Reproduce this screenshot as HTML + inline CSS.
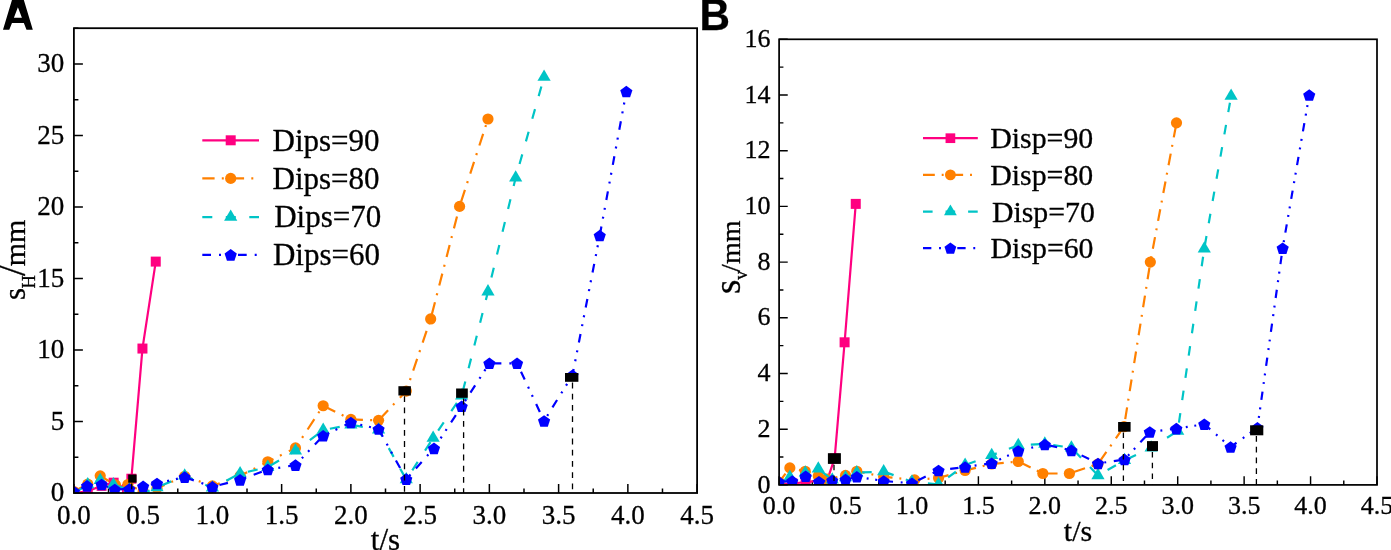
<!DOCTYPE html>
<html><head><meta charset="utf-8"><title>Chart</title>
<style>
html,body{margin:0;padding:0;background:#fff;width:1391px;height:550px;overflow:hidden;}
svg{display:block;will-change:transform;}
text{font-family:"Liberation Serif", serif;fill:#000;stroke:#000;stroke-width:0.3px;}
</style></head>
<body>
<svg width="1391" height="550" viewBox="0 0 1391 550">
<defs><clipPath id="ca"><rect x="73.9" y="28.2" width="623.2" height="464.8"/></clipPath></defs>
<path d="M73.9,493V484M108.52,493V488.5M143.14,493V484M177.77,493V488.5M212.39,493V484M247.01,493V488.5M281.63,493V484M316.26,493V488.5M350.88,493V484M385.5,493V488.5M420.12,493V484M454.74,493V488.5M489.37,493V484M523.99,493V488.5M558.61,493V484M593.23,493V488.5M627.86,493V484M662.48,493V488.5M697.1,493V484M73.9,493H82.9M73.9,457.25H78.4M73.9,421.49H82.9M73.9,385.74H78.4M73.9,349.98H82.9M73.9,314.23H78.4M73.9,278.48H82.9M73.9,242.72H78.4M73.9,206.97H82.9M73.9,171.22H78.4M73.9,135.46H82.9M73.9,99.71H78.4M73.9,63.95H82.9M73.9,28.2H78.4" stroke="#000" stroke-width="1.5" fill="none"/>
<g clip-path="url(#ca)">
<path d="M73.9,493L87.75,491.28L101.6,485.85L113.65,482.7L126.94,489L131.37,478.7L142.45,348.55L155.75,261.6" fill="none" stroke="#FF0080" stroke-width="2.2" stroke-linejoin="round"/>
<rect x="68.9" y="488" width="10" height="10" fill="#FF0080"/>
<rect x="82.75" y="486.28" width="10" height="10" fill="#FF0080"/>
<rect x="96.6" y="480.85" width="10" height="10" fill="#FF0080"/>
<rect x="108.65" y="477.7" width="10" height="10" fill="#FF0080"/>
<rect x="121.94" y="484" width="10" height="10" fill="#FF0080"/>
<rect x="126.37" y="473.7" width="10" height="10" fill="#FF0080"/>
<rect x="137.45" y="343.55" width="10" height="10" fill="#FF0080"/>
<rect x="150.75" y="256.6" width="10" height="10" fill="#FF0080"/>
<path d="M73.9,491.57L87.75,484.13L100.21,475.84L115.45,484.85L127.91,484.56L143.14,491.57L156.99,488.14L184.69,476.27L212.39,485.85L240.09,475.84L267.78,461.82L295.48,447.95L323.18,405.76L350.88,419.35L378.58,420.35L406.27,391.03" fill="none" stroke="#FF8000" stroke-width="2.2" stroke-dasharray="12.3,7.2,2,8" stroke-dashoffset="0.61"/>
<path d="M406.27,391.03L430.65,318.95" fill="none" stroke="#FF8000" stroke-width="2.2" stroke-dasharray="12.3,7.2,2,8" stroke-dashoffset="7.9"/>
<path d="M430.65,318.95L459.59,206.4" fill="none" stroke="#FF8000" stroke-width="2.2" stroke-dasharray="12.3,7.2,2,8" stroke-dashoffset="24.5"/>
<path d="M459.59,206.4L487.98,119.01" fill="none" stroke="#FF8000" stroke-width="2.2" stroke-dasharray="12.3,7.2,2,8" stroke-dashoffset="24.5"/>
<circle cx="73.9" cy="491.57" r="5.6" fill="#FF8000"/>
<circle cx="87.75" cy="484.13" r="5.6" fill="#FF8000"/>
<circle cx="100.21" cy="475.84" r="5.6" fill="#FF8000"/>
<circle cx="115.45" cy="484.85" r="5.6" fill="#FF8000"/>
<circle cx="127.91" cy="484.56" r="5.6" fill="#FF8000"/>
<circle cx="143.14" cy="491.57" r="5.6" fill="#FF8000"/>
<circle cx="156.99" cy="488.14" r="5.6" fill="#FF8000"/>
<circle cx="184.69" cy="476.27" r="5.6" fill="#FF8000"/>
<circle cx="212.39" cy="485.85" r="5.6" fill="#FF8000"/>
<circle cx="240.09" cy="475.84" r="5.6" fill="#FF8000"/>
<circle cx="267.78" cy="461.82" r="5.6" fill="#FF8000"/>
<circle cx="295.48" cy="447.95" r="5.6" fill="#FF8000"/>
<circle cx="323.18" cy="405.76" r="5.6" fill="#FF8000"/>
<circle cx="350.88" cy="419.35" r="5.6" fill="#FF8000"/>
<circle cx="378.58" cy="420.35" r="5.6" fill="#FF8000"/>
<circle cx="406.27" cy="391.03" r="5.6" fill="#FF8000"/>
<circle cx="430.65" cy="318.95" r="5.6" fill="#FF8000"/>
<circle cx="459.59" cy="206.4" r="5.6" fill="#FF8000"/>
<circle cx="487.98" cy="119.01" r="5.6" fill="#FF8000"/>
<path d="M73.9,493.43L87.75,484.56L100.21,480.27L113.37,484.56L129.3,489.85L143.14,493.43L156.99,487.42L184.69,475.7L212.39,487.85L240.09,473.55L267.78,467.11L295.48,450.81L323.18,430.07L350.88,424.78L378.58,429.79L406.27,479.56L433.14,438.08" fill="none" stroke="#00C4C6" stroke-width="2.2" stroke-dasharray="10,13.5" stroke-dashoffset="22.35"/>
<path d="M433.14,438.08L461.67,395.75" fill="none" stroke="#00C4C6" stroke-width="2.2" stroke-dasharray="10,13.5" stroke-dashoffset="14.5"/>
<path d="M461.67,395.75L487.98,291.63" fill="none" stroke="#00C4C6" stroke-width="2.2" stroke-dasharray="10,13.5" stroke-dashoffset="18.7"/>
<path d="M487.98,291.63L515.68,177.79" fill="none" stroke="#00C4C6" stroke-width="2.2" stroke-dasharray="10,13.5" stroke-dashoffset="8.9"/>
<path d="M515.68,177.79L544.07,76.97" fill="none" stroke="#00C4C6" stroke-width="2.2" stroke-dasharray="10,13.5" stroke-dashoffset="9.2"/>
<path d="M73.9,485.9L80.5,497.2L67.3,497.2Z" fill="#00C4C6"/>
<path d="M87.75,477.03L94.35,488.33L81.15,488.33Z" fill="#00C4C6"/>
<path d="M100.21,472.74L106.81,484.04L93.61,484.04Z" fill="#00C4C6"/>
<path d="M113.37,477.03L119.97,488.33L106.77,488.33Z" fill="#00C4C6"/>
<path d="M129.3,482.32L135.9,493.62L122.7,493.62Z" fill="#00C4C6"/>
<path d="M143.14,485.9L149.74,497.2L136.54,497.2Z" fill="#00C4C6"/>
<path d="M156.99,479.89L163.59,491.19L150.39,491.19Z" fill="#00C4C6"/>
<path d="M184.69,468.16L191.29,479.46L178.09,479.46Z" fill="#00C4C6"/>
<path d="M212.39,480.32L218.99,491.62L205.79,491.62Z" fill="#00C4C6"/>
<path d="M240.09,466.02L246.69,477.32L233.49,477.32Z" fill="#00C4C6"/>
<path d="M267.78,459.58L274.38,470.88L261.18,470.88Z" fill="#00C4C6"/>
<path d="M295.48,443.28L302.08,454.58L288.88,454.58Z" fill="#00C4C6"/>
<path d="M323.18,422.54L329.78,433.84L316.58,433.84Z" fill="#00C4C6"/>
<path d="M350.88,417.25L357.48,428.55L344.28,428.55Z" fill="#00C4C6"/>
<path d="M378.58,422.25L385.18,433.55L371.98,433.55Z" fill="#00C4C6"/>
<path d="M406.27,472.02L412.87,483.32L399.67,483.32Z" fill="#00C4C6"/>
<path d="M433.14,430.55L439.74,441.85L426.54,441.85Z" fill="#00C4C6"/>
<path d="M461.67,388.22L468.27,399.52L455.07,399.52Z" fill="#00C4C6"/>
<path d="M487.98,284.1L494.58,295.4L481.38,295.4Z" fill="#00C4C6"/>
<path d="M515.68,170.26L522.28,181.56L509.08,181.56Z" fill="#00C4C6"/>
<path d="M544.07,69.43L550.67,80.73L537.47,80.73Z" fill="#00C4C6"/>
<path d="M73.9,491.57L87.06,485.85L101.6,484.42L114.75,489.42L129.3,489L143.14,486.28L156.99,483.42L184.69,477.13L212.39,486.85L240.09,479.84L267.78,469.55L295.48,465.11L323.18,435.79L350.88,422.49L378.58,429.07L406.27,479.13L433.97,448.38" fill="none" stroke="#0000FF" stroke-width="2.2" stroke-dasharray="8.7,8,2,7,2,8" stroke-dashoffset="27.56"/>
<path d="M433.97,448.38L461.67,406.33" fill="none" stroke="#0000FF" stroke-width="2.2" stroke-dasharray="8.7,8,2,7,2,8" stroke-dashoffset="4.6"/>
<path d="M461.67,406.33L489.37,363.29" fill="none" stroke="#0000FF" stroke-width="2.2" stroke-dasharray="8.7,8,2,7,2,8" stroke-dashoffset="19.5"/>
<path d="M489.37,363.29L517.06,363.29" fill="none" stroke="#0000FF" stroke-width="2.2" stroke-dasharray="8.7,8,2,7,2,8" stroke-dashoffset="32.4"/>
<path d="M517.06,363.29L544.07,420.92" fill="none" stroke="#0000FF" stroke-width="2.2" stroke-dasharray="8.7,8,2,7,2,8" stroke-dashoffset="26.4"/>
<path d="M544.07,420.92L572.46,375.3" fill="none" stroke="#0000FF" stroke-width="2.2" stroke-dasharray="8.7,8,2,7,2,8" stroke-dashoffset="19.8"/>
<path d="M572.46,375.3L599.74,235.57" fill="none" stroke="#0000FF" stroke-width="2.2" stroke-dasharray="8.7,8,2,7,2,8" stroke-dashoffset="2.3"/>
<path d="M599.74,235.57L626.33,91.56" fill="none" stroke="#0000FF" stroke-width="2.2" stroke-dasharray="8.7,8,2,7,2,8" stroke-dashoffset="35.2"/>
<path d="M73.9,485.78L79.99,490.2L77.66,497.36L70.14,497.36L67.81,490.2Z" fill="#0000FF"/>
<path d="M87.06,480.06L93.14,484.48L90.82,491.64L83.29,491.64L80.97,484.48Z" fill="#0000FF"/>
<path d="M101.6,478.63L107.68,483.05L105.36,490.21L97.84,490.21L95.51,483.05Z" fill="#0000FF"/>
<path d="M114.75,483.64L120.84,488.06L118.52,495.21L110.99,495.21L108.67,488.06Z" fill="#0000FF"/>
<path d="M129.3,483.21L135.38,487.63L133.06,494.78L125.53,494.78L123.21,487.63Z" fill="#0000FF"/>
<path d="M143.14,480.49L149.23,484.91L146.91,492.07L139.38,492.07L137.06,484.91Z" fill="#0000FF"/>
<path d="M156.99,477.63L163.08,482.05L160.76,489.21L153.23,489.21L150.91,482.05Z" fill="#0000FF"/>
<path d="M184.69,471.34L190.78,475.76L188.45,482.91L180.93,482.91L178.6,475.76Z" fill="#0000FF"/>
<path d="M212.39,481.06L218.48,485.48L216.15,492.64L208.63,492.64L206.3,485.48Z" fill="#0000FF"/>
<path d="M240.09,474.05L246.17,478.48L243.85,485.63L236.32,485.63L234,478.48Z" fill="#0000FF"/>
<path d="M267.78,463.76L273.87,468.18L271.55,475.33L264.02,475.33L261.7,468.18Z" fill="#0000FF"/>
<path d="M295.48,459.32L301.57,463.75L299.24,470.9L291.72,470.9L289.4,463.75Z" fill="#0000FF"/>
<path d="M323.18,430L329.27,434.43L326.94,441.58L319.42,441.58L317.09,434.43Z" fill="#0000FF"/>
<path d="M350.88,416.7L356.96,421.13L354.64,428.28L347.12,428.28L344.79,421.13Z" fill="#0000FF"/>
<path d="M378.58,423.28L384.66,427.71L382.34,434.86L374.81,434.86L372.49,427.71Z" fill="#0000FF"/>
<path d="M406.27,473.34L412.36,477.76L410.04,484.92L402.51,484.92L400.19,477.76Z" fill="#0000FF"/>
<path d="M433.97,442.59L440.06,447.01L437.73,454.17L430.21,454.17L427.88,447.01Z" fill="#0000FF"/>
<path d="M461.67,400.54L467.76,404.97L465.43,412.12L457.91,412.12L455.58,404.97Z" fill="#0000FF"/>
<path d="M489.37,357.5L495.45,361.92L493.13,369.07L485.6,369.07L483.28,361.92Z" fill="#0000FF"/>
<path d="M517.06,357.5L523.15,361.92L520.83,369.07L513.3,369.07L510.98,361.92Z" fill="#0000FF"/>
<path d="M544.07,415.13L550.16,419.55L547.83,426.71L540.31,426.71L537.98,419.55Z" fill="#0000FF"/>
<path d="M572.46,369.51L578.55,373.93L576.22,381.09L568.7,381.09L566.37,373.93Z" fill="#0000FF"/>
<path d="M599.74,229.78L605.83,234.21L603.5,241.36L595.98,241.36L593.66,234.21Z" fill="#0000FF"/>
<path d="M626.33,85.77L632.42,90.19L630.09,97.34L622.57,97.34L620.25,90.19Z" fill="#0000FF"/>
<path d="M131.7,483.5V493" stroke="#000" stroke-width="1.3" stroke-dasharray="5.8,5.4" fill="none"/>
<rect x="128.2" y="474.5" width="8.4" height="8.2" fill="#000"/>
<path d="M404.5,396.3V493" stroke="#000" stroke-width="1.3" stroke-dasharray="5.8,5.4" fill="none"/>
<rect x="398.4" y="386.2" width="12.5" height="9.3" fill="#000"/>
<path d="M463.6,398.6V493" stroke="#000" stroke-width="1.3" stroke-dasharray="5.8,5.4" fill="none"/>
<rect x="456.1" y="388.5" width="11.7" height="9.3" fill="#000"/>
<path d="M572.5,382.6V493" stroke="#000" stroke-width="1.3" stroke-dasharray="5.8,5.4" fill="none"/>
<rect x="565" y="373" width="13.4" height="8.8" fill="#000"/>
</g>
<rect x="73.9" y="28.2" width="623.2" height="464.8" fill="none" stroke="#000" stroke-width="1.8"/>
<text x="64.3" y="501.3" text-anchor="end" font-size="27">0</text>
<text x="64.3" y="429.79" text-anchor="end" font-size="27">5</text>
<text x="64.3" y="358.28" text-anchor="end" font-size="27">10</text>
<text x="64.3" y="286.78" text-anchor="end" font-size="27">15</text>
<text x="64.3" y="215.27" text-anchor="end" font-size="27">20</text>
<text x="64.3" y="143.76" text-anchor="end" font-size="27">25</text>
<text x="64.3" y="72.25" text-anchor="end" font-size="27">30</text>
<text x="73.9" y="523.6" text-anchor="middle" font-size="27">0.0</text>
<text x="143.14" y="523.6" text-anchor="middle" font-size="27">0.5</text>
<text x="212.39" y="523.6" text-anchor="middle" font-size="27">1.0</text>
<text x="281.63" y="523.6" text-anchor="middle" font-size="27">1.5</text>
<text x="350.88" y="523.6" text-anchor="middle" font-size="27">2.0</text>
<text x="420.12" y="523.6" text-anchor="middle" font-size="27">2.5</text>
<text x="489.37" y="523.6" text-anchor="middle" font-size="27">3.0</text>
<text x="558.61" y="523.6" text-anchor="middle" font-size="27">3.5</text>
<text x="627.86" y="523.6" text-anchor="middle" font-size="27">4.0</text>
<text x="697.1" y="523.6" text-anchor="middle" font-size="27">4.5</text>
<text x="385.5" y="549.6" text-anchor="middle" font-size="31">t/s</text>
<g font-size="30"><text transform="translate(25.2,300) rotate(-90)" font-size="31">s</text><text transform="translate(35,288.5) rotate(-90)" font-size="18.5">H</text><text transform="translate(25.2,276) rotate(-90)" font-size="38">/</text><text transform="translate(24.9,266.3) rotate(-90)">mm</text></g>
<path d="M202.3,140.3H259" stroke="#FF0080" stroke-width="2.2" fill="none"/>
<rect x="225.7" y="135.3" width="10" height="10" fill="#FF0080"/>
<text x="272.5" y="150.6" font-size="31">Dips=90</text>
<path d="M202.3,178.4H259" stroke="#FF8000" stroke-width="2.2" fill="none" stroke-dasharray="12.3,7.2,2,8"/>
<circle cx="230.7" cy="178.4" r="5.6" fill="#FF8000"/>
<text x="272.5" y="188.7" font-size="31">Dips=80</text>
<path d="M202.3,217.1H259" stroke="#00C4C6" stroke-width="2.2" fill="none" stroke-dasharray="10,13.5"/>
<path d="M230.7,209.57L237.3,220.87L224.1,220.87Z" fill="#00C4C6"/>
<text x="274.2" y="227.4" font-size="31">Dips=70</text>
<path d="M202.3,254.9H259" stroke="#0000FF" stroke-width="2.2" fill="none" stroke-dasharray="8.7,8,2,7,2,8"/>
<path d="M230.7,249.11L236.79,253.53L234.46,260.69L226.94,260.69L224.61,253.53Z" fill="#0000FF"/>
<text x="272.9" y="265.2" font-size="31">Dips=60</text>
<path fill="#000" fill-rule="evenodd" d="M3,29.8L12.86,-3L22.94,-3L32.8,29.8L26.5,29.8L23.84,22.9L11.96,22.9L9.3,29.8ZM17.9,7.3L21.9,17.8L13.9,17.8Z"/>
<defs><clipPath id="cb"><rect x="779.1" y="39.3" width="597.9" height="445.6"/></clipPath></defs>
<path d="M779.1,484.9V476.26M812.32,484.9V480.58M845.53,484.9V476.26M878.75,484.9V480.58M911.97,484.9V476.26M945.18,484.9V480.58M978.4,484.9V476.26M1011.62,484.9V480.58M1044.83,484.9V476.26M1078.05,484.9V480.58M1111.27,484.9V476.26M1144.48,484.9V480.58M1177.7,484.9V476.26M1210.92,484.9V480.58M1244.13,484.9V476.26M1277.35,484.9V480.58M1310.57,484.9V476.26M1343.78,484.9V480.58M1377,484.9V476.26M779.1,484.9H787.74M779.1,457.05H783.42M779.1,429.2H787.74M779.1,401.35H783.42M779.1,373.5H787.74M779.1,345.65H783.42M779.1,317.8H787.74M779.1,289.95H783.42M779.1,262.1H787.74M779.1,234.25H783.42M779.1,206.4H787.74M779.1,178.55H783.42M779.1,150.7H787.74M779.1,122.85H783.42M779.1,95H787.74M779.1,67.15H783.42M779.1,39.3H787.74" stroke="#000" stroke-width="1.44" fill="none"/>
<g clip-path="url(#cb)">
<path d="M779.1,484.34L792.39,483.51L805.67,482.11L818.96,480.72L826.27,482.95L834.64,458.44L844.6,342.31L855.76,203.89" fill="none" stroke="#FF0080" stroke-width="2.2" stroke-linejoin="round"/>
<rect x="774.1" y="479.34" width="10" height="10" fill="#FF0080"/>
<rect x="787.39" y="478.51" width="10" height="10" fill="#FF0080"/>
<rect x="800.67" y="477.11" width="10" height="10" fill="#FF0080"/>
<rect x="813.96" y="475.72" width="10" height="10" fill="#FF0080"/>
<rect x="821.27" y="477.95" width="10" height="10" fill="#FF0080"/>
<rect x="829.64" y="453.44" width="10" height="10" fill="#FF0080"/>
<rect x="839.6" y="337.31" width="10" height="10" fill="#FF0080"/>
<rect x="850.76" y="198.89" width="10" height="10" fill="#FF0080"/>
<path d="M779.1,482.11L789.86,467.91L805.27,471.25L818.3,475.99L826.93,479.05L845.53,475.43L856.83,471.25L883.67,476.82L914.62,479.89L938.54,477.94L965.11,470.42L991.69,464.01L1018.26,461.51L1042.84,473.48L1069.41,473.48L1097.98,464.01L1124.02,426.69" fill="none" stroke="#FF8000" stroke-width="2.2" stroke-dasharray="11.81,6.91,1.92,7.68" stroke-dashoffset="1.2"/>
<path d="M1124.02,426.69L1150.33,262.1" fill="none" stroke="#FF8000" stroke-width="2.2" stroke-dasharray="11.81,6.91,1.92,7.68" stroke-dashoffset="20.64"/>
<path d="M1150.33,262.1L1176.5,122.85" fill="none" stroke="#FF8000" stroke-width="2.2" stroke-dasharray="11.81,6.91,1.92,7.68" stroke-dashoffset="14.69"/>
<circle cx="779.1" cy="482.11" r="5.6" fill="#FF8000"/>
<circle cx="789.86" cy="467.91" r="5.6" fill="#FF8000"/>
<circle cx="805.27" cy="471.25" r="5.6" fill="#FF8000"/>
<circle cx="818.3" cy="475.99" r="5.6" fill="#FF8000"/>
<circle cx="826.93" cy="479.05" r="5.6" fill="#FF8000"/>
<circle cx="845.53" cy="475.43" r="5.6" fill="#FF8000"/>
<circle cx="856.83" cy="471.25" r="5.6" fill="#FF8000"/>
<circle cx="883.67" cy="476.82" r="5.6" fill="#FF8000"/>
<circle cx="914.62" cy="479.89" r="5.6" fill="#FF8000"/>
<circle cx="938.54" cy="477.94" r="5.6" fill="#FF8000"/>
<circle cx="965.11" cy="470.42" r="5.6" fill="#FF8000"/>
<circle cx="991.69" cy="464.01" r="5.6" fill="#FF8000"/>
<circle cx="1018.26" cy="461.51" r="5.6" fill="#FF8000"/>
<circle cx="1042.84" cy="473.48" r="5.6" fill="#FF8000"/>
<circle cx="1069.41" cy="473.48" r="5.6" fill="#FF8000"/>
<circle cx="1097.98" cy="464.01" r="5.6" fill="#FF8000"/>
<circle cx="1124.02" cy="426.69" r="5.6" fill="#FF8000"/>
<circle cx="1150.33" cy="262.1" r="5.6" fill="#FF8000"/>
<circle cx="1176.5" cy="122.85" r="5.6" fill="#FF8000"/>
<path d="M779.1,484.01L789.86,477.05L805.27,472.87L818.3,468.69L832.25,479.83L845.53,477.6L856.83,472.65L883.67,471.53L911.97,481.84L938.54,484.34L965.11,465.07L991.69,455.32L1018.26,445.3L1044.83,443.9L1071.41,447.8L1097.98,475.38L1124.55,460.34L1151.13,447.8L1177.7,431.09" fill="none" stroke="#00C4C6" stroke-width="2.2" stroke-dasharray="9.6,12.96" stroke-dashoffset="21.4"/>
<path d="M1177.7,431.09L1204.27,248.68" fill="none" stroke="#00C4C6" stroke-width="2.2" stroke-dasharray="9.6,12.96" stroke-dashoffset="13.92"/>
<path d="M1204.27,248.68L1231.11,96.06" fill="none" stroke="#00C4C6" stroke-width="2.2" stroke-dasharray="9.6,12.96" stroke-dashoffset="19.3"/>
<path d="M779.1,476.48L785.7,487.78L772.5,487.78Z" fill="#00C4C6"/>
<path d="M789.86,469.51L796.46,480.81L783.26,480.81Z" fill="#00C4C6"/>
<path d="M805.27,465.34L811.87,476.64L798.67,476.64Z" fill="#00C4C6"/>
<path d="M818.3,461.16L824.9,472.46L811.7,472.46Z" fill="#00C4C6"/>
<path d="M832.25,472.3L838.85,483.6L825.65,483.6Z" fill="#00C4C6"/>
<path d="M845.53,470.07L852.13,481.37L838.93,481.37Z" fill="#00C4C6"/>
<path d="M856.83,465.11L863.43,476.41L850.23,476.41Z" fill="#00C4C6"/>
<path d="M883.67,464L890.27,475.3L877.07,475.3Z" fill="#00C4C6"/>
<path d="M911.97,474.3L918.57,485.6L905.37,485.6Z" fill="#00C4C6"/>
<path d="M938.54,476.81L945.14,488.11L931.94,488.11Z" fill="#00C4C6"/>
<path d="M965.11,457.54L971.71,468.84L958.51,468.84Z" fill="#00C4C6"/>
<path d="M991.69,447.79L998.29,459.09L985.09,459.09Z" fill="#00C4C6"/>
<path d="M1018.26,437.76L1024.86,449.06L1011.66,449.06Z" fill="#00C4C6"/>
<path d="M1044.83,436.37L1051.43,447.67L1038.23,447.67Z" fill="#00C4C6"/>
<path d="M1071.41,440.27L1078.01,451.57L1064.81,451.57Z" fill="#00C4C6"/>
<path d="M1097.98,467.84L1104.58,479.14L1091.38,479.14Z" fill="#00C4C6"/>
<path d="M1124.55,452.8L1131.15,464.1L1117.95,464.1Z" fill="#00C4C6"/>
<path d="M1151.13,440.27L1157.73,451.57L1144.53,451.57Z" fill="#00C4C6"/>
<path d="M1177.7,423.56L1184.3,434.86L1171.1,434.86Z" fill="#00C4C6"/>
<path d="M1204.27,241.14L1210.87,252.44L1197.67,252.44Z" fill="#00C4C6"/>
<path d="M1231.11,88.52L1237.71,99.82L1224.51,99.82Z" fill="#00C4C6"/>
<path d="M779.1,482.11L792.25,481L805.67,476.27L818.96,481.7L832.25,480.44L845.53,479.61L856.83,476.82L883.67,481L911.97,483.23L938.54,470.42L965.11,467.08L991.69,463.18L1018.26,450.92L1044.83,444.52L1071.41,450.37L1097.98,463.46L1124.55,459.56L1149.8,431.99L1176.37,428.64L1204.27,424.19L1230.58,447.02L1257.42,427.81" fill="none" stroke="#0000FF" stroke-width="2.2" stroke-dasharray="8.35,7.68,1.92,6.72,1.92,7.68" stroke-dashoffset="28.79"/>
<path d="M1257.42,427.81L1282.66,248.17" fill="none" stroke="#0000FF" stroke-width="2.2" stroke-dasharray="8.35,7.68,1.92,6.72,1.92,7.68" stroke-dashoffset="6"/>
<path d="M1282.66,248.17L1309.24,95" fill="none" stroke="#0000FF" stroke-width="2.2" stroke-dasharray="8.35,7.68,1.92,6.72,1.92,7.68" stroke-dashoffset="18.53"/>
<path d="M779.1,476.33L785.19,480.75L782.86,487.9L775.34,487.9L773.01,480.75Z" fill="#0000FF"/>
<path d="M792.25,475.21L798.34,479.63L796.02,486.79L788.49,486.79L786.17,479.63Z" fill="#0000FF"/>
<path d="M805.67,470.48L811.76,474.9L809.44,482.06L801.91,482.06L799.59,474.9Z" fill="#0000FF"/>
<path d="M818.96,475.91L825.05,480.33L822.72,487.49L815.2,487.49L812.87,480.33Z" fill="#0000FF"/>
<path d="M832.25,474.66L838.33,479.08L836.01,486.23L828.48,486.23L826.16,479.08Z" fill="#0000FF"/>
<path d="M845.53,473.82L851.62,478.24L849.3,485.4L841.77,485.4L839.45,478.24Z" fill="#0000FF"/>
<path d="M856.83,471.03L862.91,475.46L860.59,482.61L853.07,482.61L850.74,475.46Z" fill="#0000FF"/>
<path d="M883.67,475.21L889.75,479.63L887.43,486.79L879.9,486.79L877.58,479.63Z" fill="#0000FF"/>
<path d="M911.97,477.44L918.05,481.86L915.73,489.02L908.2,489.02L905.88,481.86Z" fill="#0000FF"/>
<path d="M938.54,464.63L944.63,469.05L942.3,476.21L934.78,476.21L932.45,469.05Z" fill="#0000FF"/>
<path d="M965.11,461.29L971.2,465.71L968.88,472.86L961.35,472.86L959.03,465.71Z" fill="#0000FF"/>
<path d="M991.69,457.39L997.77,461.81L995.45,468.97L987.92,468.97L985.6,461.81Z" fill="#0000FF"/>
<path d="M1018.26,445.13L1024.35,449.56L1022.02,456.71L1014.5,456.71L1012.17,449.56Z" fill="#0000FF"/>
<path d="M1044.83,438.73L1050.92,443.15L1048.6,450.31L1041.07,450.31L1038.75,443.15Z" fill="#0000FF"/>
<path d="M1071.41,444.58L1077.49,449L1075.17,456.15L1067.64,456.15L1065.32,449Z" fill="#0000FF"/>
<path d="M1097.98,457.67L1104.07,462.09L1101.74,469.24L1094.22,469.24L1091.89,462.09Z" fill="#0000FF"/>
<path d="M1124.55,453.77L1130.64,458.19L1128.32,465.35L1120.79,465.35L1118.47,458.19Z" fill="#0000FF"/>
<path d="M1149.8,426.2L1155.88,430.62L1153.56,437.77L1146.04,437.77L1143.71,430.62Z" fill="#0000FF"/>
<path d="M1176.37,422.85L1182.46,427.28L1180.13,434.43L1172.61,434.43L1170.28,427.28Z" fill="#0000FF"/>
<path d="M1204.27,418.4L1210.36,422.82L1208.04,429.98L1200.51,429.98L1198.19,422.82Z" fill="#0000FF"/>
<path d="M1230.58,441.24L1236.67,445.66L1234.34,452.81L1226.82,452.81L1224.49,445.66Z" fill="#0000FF"/>
<path d="M1257.42,422.02L1263.51,426.44L1261.18,433.6L1253.66,433.6L1251.33,426.44Z" fill="#0000FF"/>
<path d="M1282.66,242.39L1288.75,246.81L1286.43,253.96L1278.9,253.96L1276.58,246.81Z" fill="#0000FF"/>
<path d="M1309.24,89.21L1315.32,93.63L1313,100.79L1305.48,100.79L1303.15,93.63Z" fill="#0000FF"/>
<path d="M834,464.7V484.9" stroke="#000" stroke-width="1.3" stroke-dasharray="5.57,5.18" fill="none"/>
<rect x="827.9" y="453.2" width="13" height="10.7" fill="#000"/>
<path d="M1123.4,432.5V484.9" stroke="#000" stroke-width="1.3" stroke-dasharray="5.57,5.18" fill="none"/>
<rect x="1118.1" y="422" width="12.5" height="9.7" fill="#000"/>
<path d="M1152.4,451.9V484.9" stroke="#000" stroke-width="1.3" stroke-dasharray="5.57,5.18" fill="none"/>
<rect x="1147" y="441.1" width="11" height="10" fill="#000"/>
<path d="M1256.4,436.1V484.9" stroke="#000" stroke-width="1.3" stroke-dasharray="5.57,5.18" fill="none"/>
<rect x="1250.1" y="425.3" width="13.2" height="10" fill="#000"/>
</g>
<rect x="779.1" y="39.3" width="597.9" height="445.6" fill="none" stroke="#000" stroke-width="1.73"/>
<text x="770.5" y="492.5" text-anchor="end" font-size="26">0</text>
<text x="770.5" y="436.8" text-anchor="end" font-size="26">2</text>
<text x="770.5" y="381.1" text-anchor="end" font-size="26">4</text>
<text x="770.5" y="325.4" text-anchor="end" font-size="26">6</text>
<text x="770.5" y="269.7" text-anchor="end" font-size="26">8</text>
<text x="770.5" y="214" text-anchor="end" font-size="26">10</text>
<text x="770.5" y="158.3" text-anchor="end" font-size="26">12</text>
<text x="770.5" y="102.6" text-anchor="end" font-size="26">14</text>
<text x="770.5" y="46.9" text-anchor="end" font-size="26">16</text>
<text x="779.1" y="513.6" text-anchor="middle" font-size="26">0.0</text>
<text x="845.53" y="513.6" text-anchor="middle" font-size="26">0.5</text>
<text x="911.97" y="513.6" text-anchor="middle" font-size="26">1.0</text>
<text x="978.4" y="513.6" text-anchor="middle" font-size="26">1.5</text>
<text x="1044.83" y="513.6" text-anchor="middle" font-size="26">2.0</text>
<text x="1111.27" y="513.6" text-anchor="middle" font-size="26">2.5</text>
<text x="1177.7" y="513.6" text-anchor="middle" font-size="26">3.0</text>
<text x="1244.13" y="513.6" text-anchor="middle" font-size="26">3.5</text>
<text x="1310.57" y="513.6" text-anchor="middle" font-size="26">4.0</text>
<text x="1377" y="513.6" text-anchor="middle" font-size="26">4.5</text>
<text x="1078.05" y="540.8" text-anchor="middle" font-size="30">t/s</text>
<g font-size="29"><text transform="translate(740.2,294) rotate(-90)" font-size="37">s</text><text transform="translate(746.8,279.8) rotate(-90)" font-size="18">v</text><text transform="translate(739.6,272) rotate(-90)" font-size="28">/</text><text transform="translate(739.6,264.0) rotate(-90)" font-size="28">mm</text></g>
<path d="M923,138.2H977.8" stroke="#FF0080" stroke-width="2.2" fill="none"/>
<rect x="945.55" y="133.35" width="9.7" height="9.7" fill="#FF0080"/>
<text x="990.3" y="148" font-size="29.8">Disp=90</text>
<path d="M923,174.9H977.8" stroke="#FF8000" stroke-width="2.2" fill="none" stroke-dasharray="11.81,6.91,1.92,7.68"/>
<circle cx="950.4" cy="174.9" r="5.43" fill="#FF8000"/>
<text x="990.3" y="184.7" font-size="29.8">Disp=80</text>
<path d="M923,211.7H977.8" stroke="#00C4C6" stroke-width="2.2" fill="none" stroke-dasharray="9.6,12.96"/>
<path d="M950.4,204.39L956.8,215.35L944,215.35Z" fill="#00C4C6"/>
<text x="991.9" y="221.5" font-size="29.8">Disp=70</text>
<path d="M923,248.1H977.8" stroke="#0000FF" stroke-width="2.2" fill="none" stroke-dasharray="8.35,7.68,1.92,6.72,1.92,7.68"/>
<path d="M950.4,242.48L956.3,246.77L954.05,253.72L946.75,253.72L944.5,246.77Z" fill="#0000FF"/>
<text x="990.6" y="257.9" font-size="29.8">Disp=60</text>
<text transform="translate(699.6,29.6) scale(0.96,1)" style="font-family:&quot;Liberation Sans&quot;, sans-serif;font-weight:bold" font-size="44">B</text>
</svg>
</body></html>
